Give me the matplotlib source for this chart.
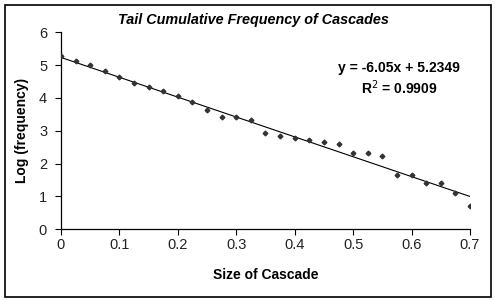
import matplotlib
matplotlib.use("Agg")
import matplotlib.pyplot as plt
from matplotlib.patches import Rectangle

plt.rcParams['font.family'] = ['Liberation Sans', 'DejaVu Sans']

# cascade size vs log tail frequency
size = [0, 0.025, 0.05, 0.075, 0.1, 0.125, 0.15, 0.175, 0.2, 0.225,
        0.25, 0.275, 0.3, 0.325, 0.35, 0.375, 0.4, 0.425, 0.45, 0.475,
        0.5, 0.525, 0.55, 0.575, 0.6, 0.625, 0.65, 0.675, 0.7]
log_freq = [5.29, 5.14, 5.01, 4.83, 4.64, 4.47, 4.33, 4.22, 4.05, 3.88,
            3.64, 3.43, 3.43, 3.32, 2.94, 2.85, 2.79, 2.71, 2.66, 2.59,
            2.33, 2.33, 2.24, 1.64, 1.64, 1.41, 1.41, 1.12, 0.71]

# trendline as printed on the chart
slope = -6.05
intercept = 5.2349
r2 = 0.9909

fig = plt.figure(figsize=(4.95, 3.03), dpi=100)
ax = fig.add_axes([0.1232, 0.2432, 0.8263, 0.6502])

ax.plot(size, log_freq, linestyle='none', marker='D', markersize=2.4,
        color='#333333', zorder=3)
fit_x = [size[0], size[-1]]
fit_y = [slope * v + intercept for v in fit_x]
ax.plot(fit_x, fit_y, color='black', linewidth=0.8, zorder=2)

ax.set_xlim(0, 0.7)
ax.set_ylim(0, 6)
ax.set_xticks([0, 0.1, 0.2, 0.3, 0.4, 0.5, 0.6, 0.7])
ax.set_xticklabels(['0', '0.1', '0.2', '0.3', '0.4', '0.5', '0.6', '0.7'])
ax.set_yticks(range(7))
for side in ['top', 'right']:
    ax.spines[side].set_visible(False)
for side in ['left', 'bottom']:
    ax.spines[side].set_linewidth(0.9)
ax.tick_params(direction='out', length=4, width=0.8, labelsize=10.5,
               labelcolor='#222222')
ax.tick_params(axis='x', pad=2)
ax.tick_params(axis='y', pad=6)

ax.set_xlabel('Size of Cascade', fontsize=10, fontweight='bold', labelpad=12)
ax.set_ylabel('Log (frequency)', fontsize=10, fontweight='bold', labelpad=7)
fig.text(0.511, 0.934, 'Tail Cumulative Frequency of Cascades', ha='center',
         va='center', fontsize=10.4, fontweight='bold', style='italic')

ax.text(0.826, 0.819, 'y = -6.05x + 5.2349', transform=ax.transAxes,
        ha='center', va='center', fontsize=10, fontweight='bold')
ax.text(0.826, 0.717, 'R$^2$ = %.4f' % r2, transform=ax.transAxes,
        ha='center', va='center', fontsize=10, fontweight='bold')

fig.patches.append(Rectangle((5 / 495, 6 / 303), 486 / 495, 292 / 303,
                             transform=fig.transFigure, fill=False,
                             edgecolor='black', linewidth=1.2))

fig.savefig('out.png', dpi=100)
